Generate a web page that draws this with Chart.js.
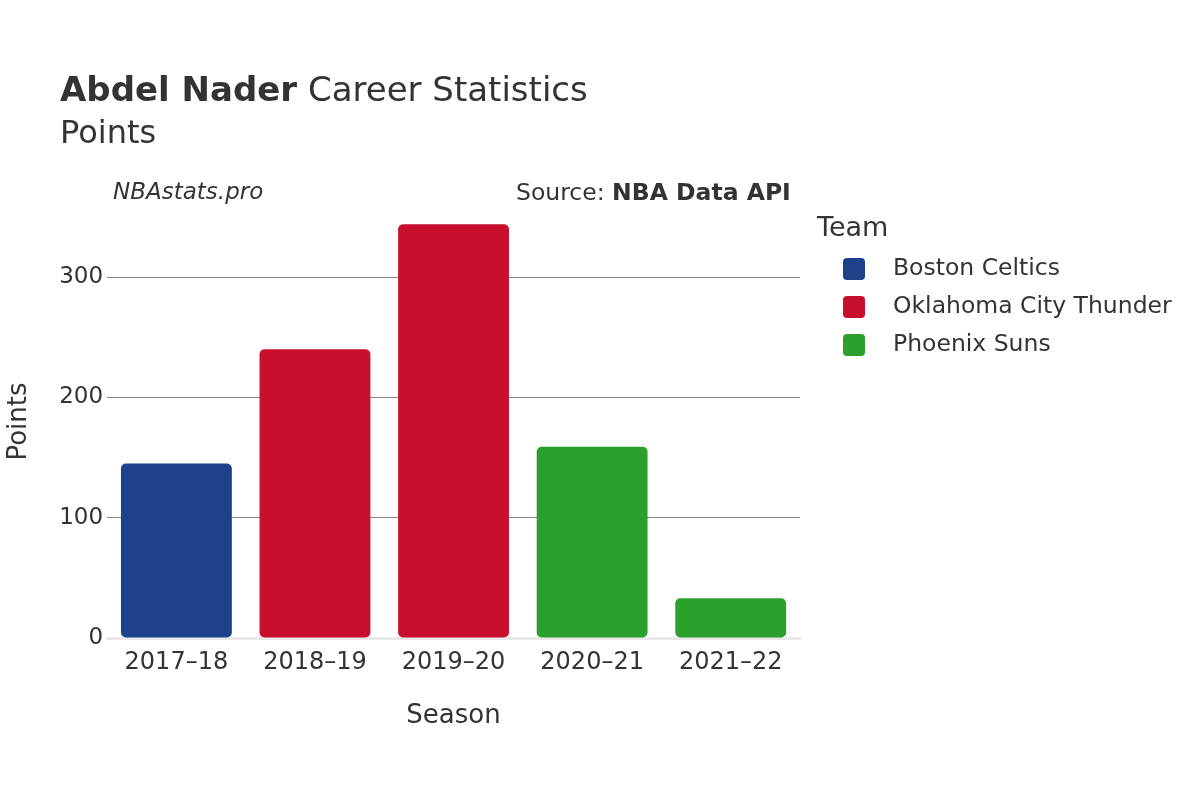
<!DOCTYPE html>
<html><head><meta charset="utf-8">
<script src="https://cdn.jsdelivr.net/npm/chart.js@4/dist/chart.umd.min.js"></script>
<style>
body{margin:0;background:#fff;font-family:"DejaVu Sans",sans-serif;color:#333;}
#wrap{position:relative;width:1200px;height:800px;}
canvas{position:absolute;left:0;top:0;}
.t{position:absolute;white-space:nowrap;}
.sw{display:inline-block;width:22px;height:22px;border-radius:4px;vertical-align:middle;margin-right:28px;}
.li{position:absolute;left:843px;font-size:23.5px;}
</style></head><body>
<div id="wrap">
<canvas id="c" width="1200" height="800"></canvas>
<div class="t" style="left:60px;top:69px;font-size:34px;"><b>Abdel Nader</b> Career Statistics</div>
<div class="t" style="left:60px;top:113px;font-size:32px;">Points</div>
<div class="t" style="left:113px;top:178px;font-size:23px;font-style:italic;">NBAstats.pro</div>
<div class="t" style="left:516px;top:178px;font-size:23.5px;">Source: <b>NBA Data API</b></div>
<div class="t" style="left:817px;top:211px;font-size:27px;">Team</div>
<div class="li" style="top:253px;"><span class="sw" style="background:#1d428a"></span>Boston Celtics</div>
<div class="li" style="top:291px;"><span class="sw" style="background:#c8102e"></span>Oklahoma City Thunder</div>
<div class="li" style="top:329px;"><span class="sw" style="background:#2ca02c"></span>Phoenix Suns</div>
</div>
<script>
// données
const seasons = ['2017–18', '2018–19', '2019–20', '2020–21', '2021–22'];
const celtics = [145, null, null, null, null];
const thunder = [null, 240, 344, null, null];
const suns = [null, null, null, 159, 33];
const yTicks = [0, 100, 200, 300];

const mk = (label, data, color) => ({
    label, data, backgroundColor: color, borderRadius: 5, borderSkipped: false,
    categoryPercentage: 0.8, barPercentage: 1, skipNull: true
});

new Chart(document.getElementById('c'), {
    type: 'bar',
    data: {
        labels: seasons,
        datasets: [
            mk('Boston Celtics', celtics, '#1d428a'),
            mk('Oklahoma City Thunder', thunder, '#c8102e'),
            mk('Phoenix Suns', suns, '#2ca02c')
        ]
    },
    options: {
        responsive: false,
        animation: false,
        layout: { padding: { top: 205, right: 400, left: 0, bottom: 64 } },
        plugins: { legend: { display: false }, tooltip: { enabled: false } },
        scales: {
            x: {
                stacked: false,
                grid: { display: false },
                border: { color: '#e8e8e8', width: 3 },
                ticks: { color: '#333', font: { size: 24, family: 'DejaVu Sans' }, padding: 2 },
                title: { display: true, text: 'Season', color: '#333', font: { size: 26, family: 'DejaVu Sans' }, padding: { top: 22 } }
            },
            y: {
                min: 0, max: 360,
                afterBuildTicks: (ax) => { ax.ticks = yTicks.map(v => ({ value: v })); },
                grid: { color: (c) => c.tick.value === 0 ? 'rgba(0,0,0,0)' : '#888', drawTicks: false },
                border: { display: false },
                ticks: { color: '#333', font: { size: 23, family: 'DejaVu Sans' }, padding: 4 },
                title: { display: true, text: 'Points', color: '#333', font: { size: 26, family: 'DejaVu Sans' }, padding: { bottom: 20 } }
            }
        }
    }
});
</script>
</body></html>
